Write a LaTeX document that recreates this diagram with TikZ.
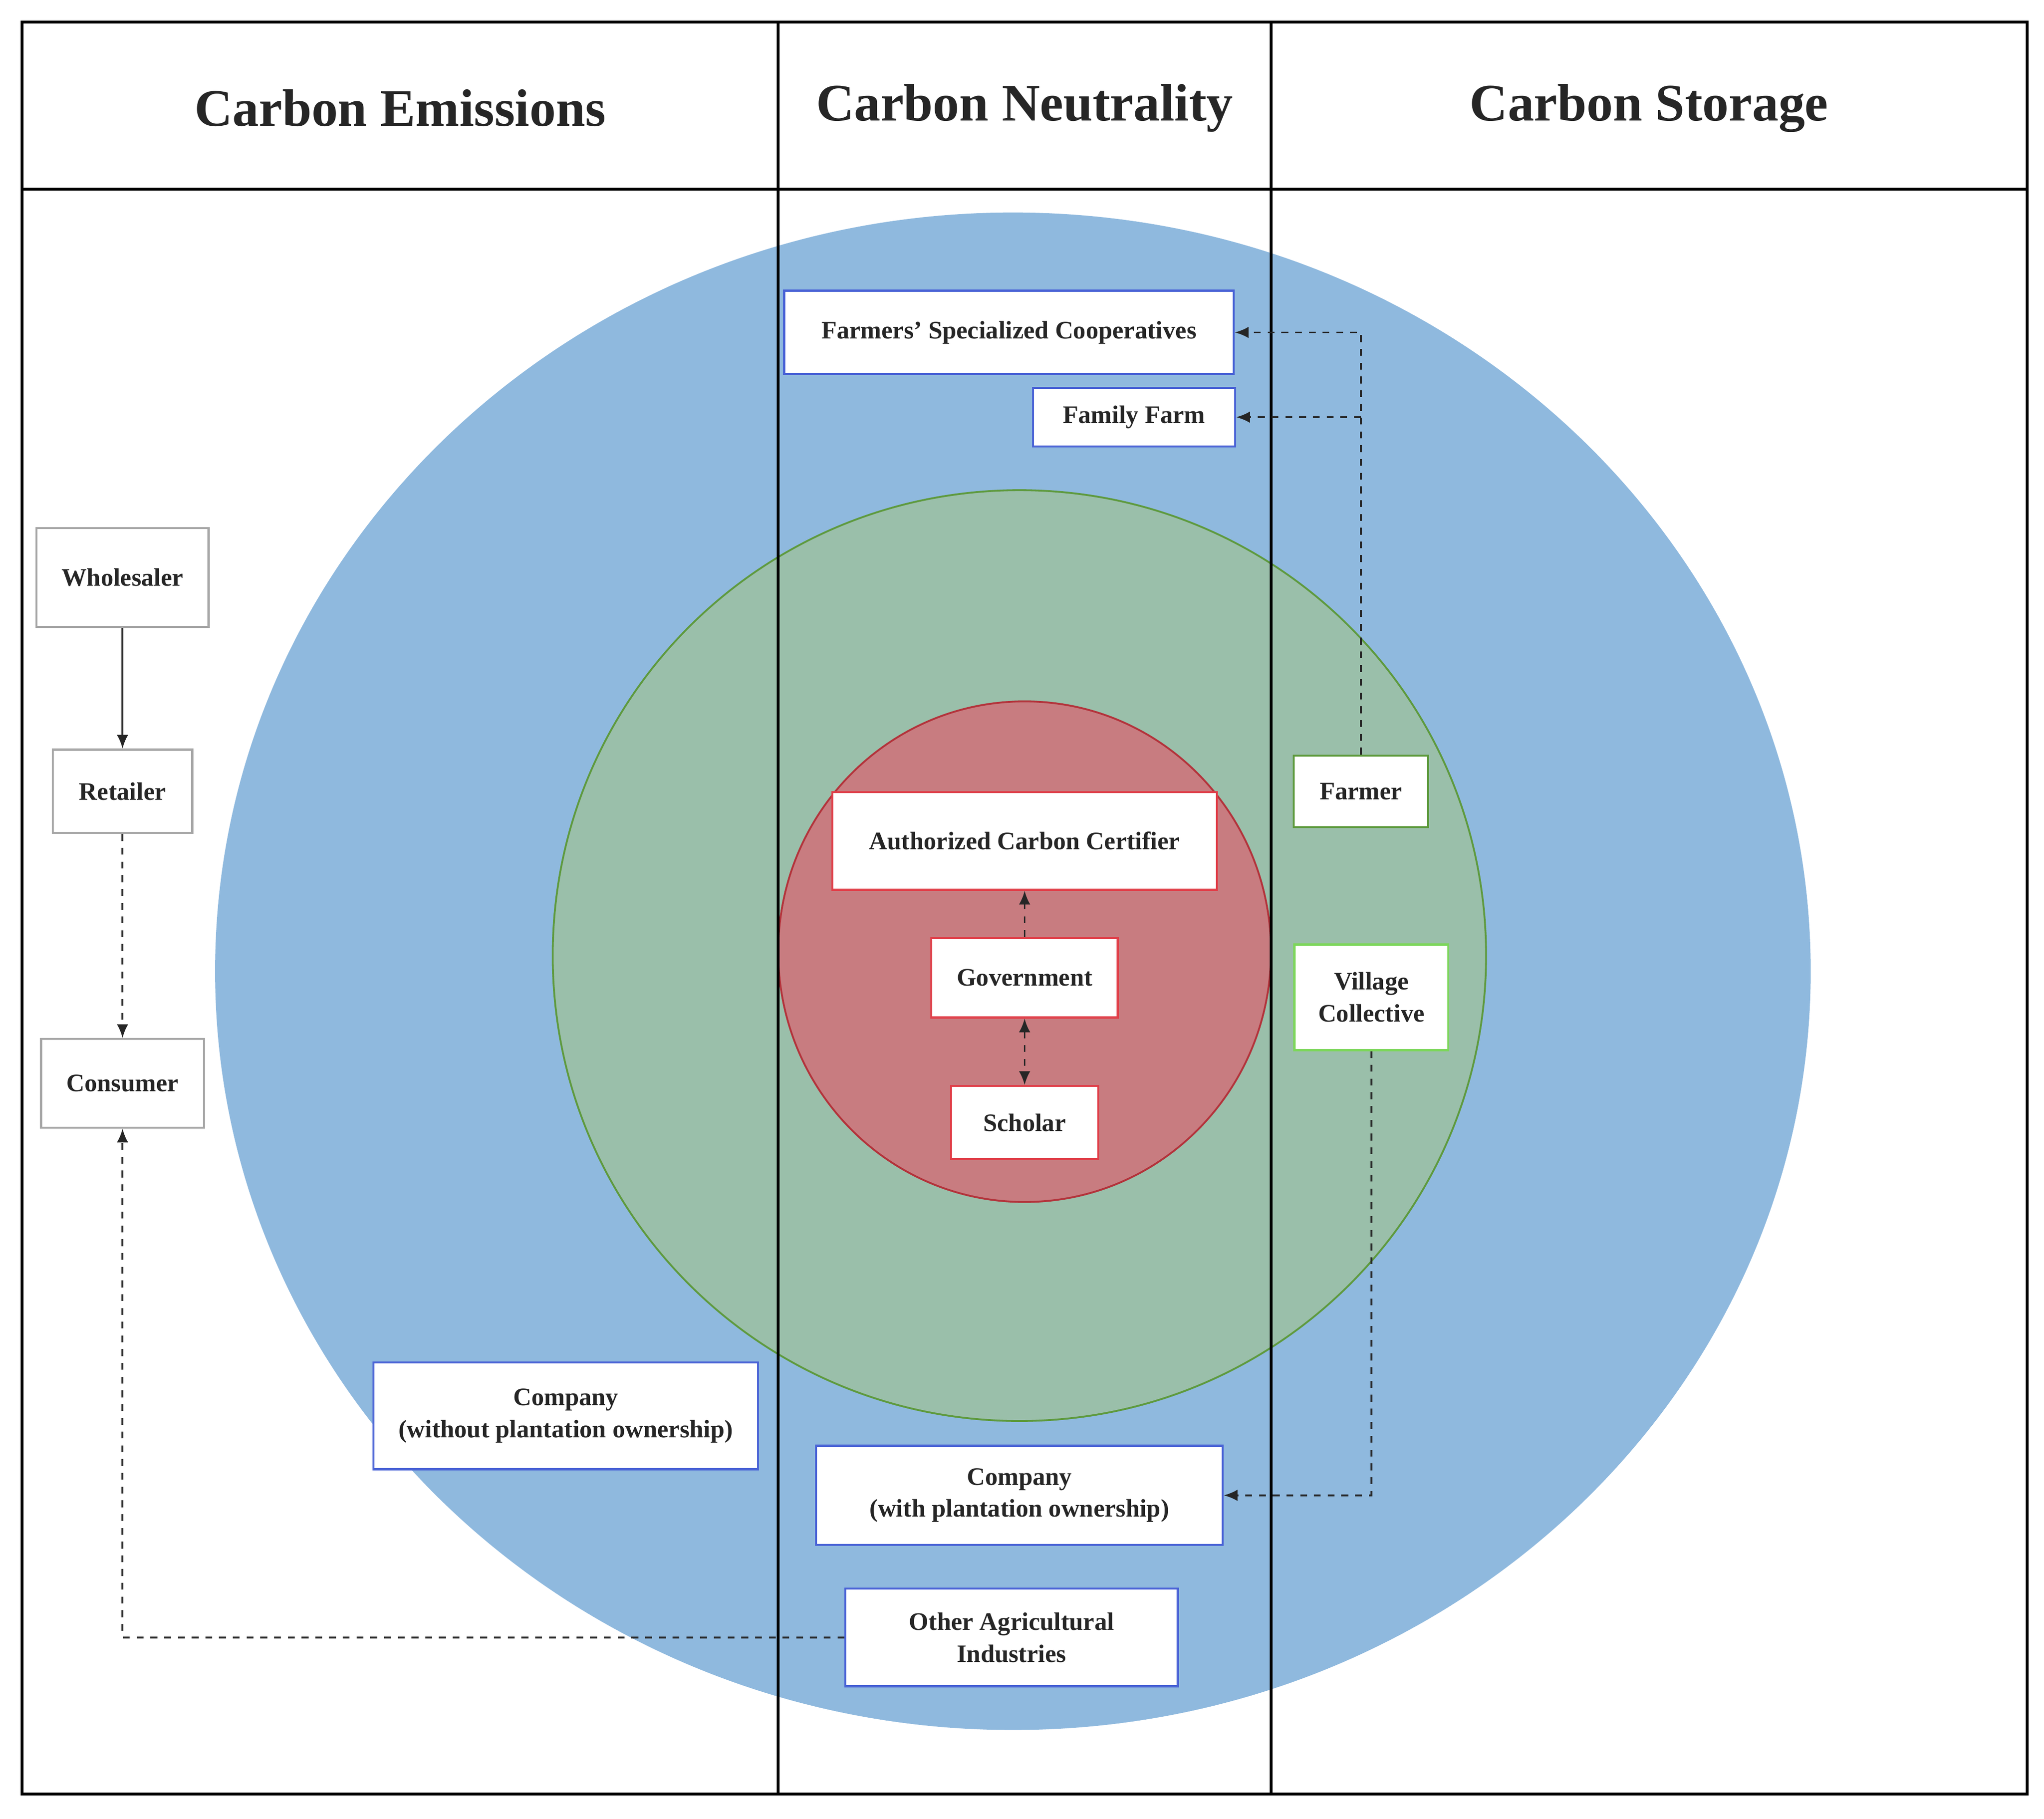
\documentclass[tikz,border=0pt]{standalone}
\usepackage{fontspec}
\setmainfont{Liberation Serif}
\usetikzlibrary{arrows.meta,positioning}
\definecolor{outerblue}{HTML}{8FB9DE}
\definecolor{midgreen}{HTML}{9ABFAA}
\definecolor{innerred}{HTML}{C87C80}
\definecolor{bborder}{HTML}{4A63D6}
\definecolor{rborder}{HTML}{E0404A}
\definecolor{gborder}{HTML}{5E9A3E}
\definecolor{lgborder}{HTML}{7CD65A}
\begin{document}
\begin{tikzpicture}[x=0.02cm,y=-0.02cm,
  actor/.style={draw, rectangle, fill=white, line width=0.9pt, align=center,
    font=\fontsize{11}{14}\selectfont\bfseries, text=black!85},
  blueact/.style={actor, draw=bborder},
  redact/.style={actor, draw=rborder},
  grayact/.style={actor, draw=black!35},
  link/.style={-{Latex[length=6pt,width=5pt]}, line width=0.8pt, black!85},
  dlink/.style={link, dashed},
  head/.style={font=\fontsize{23}{26}\selectfont\bfseries, text=black!85}]
\useasboundingbox (0,0) rectangle (1568,1395);
% rings
\fill[outerblue] (777,745) ellipse [x radius=612, y radius=582];
\draw[fill=midgreen, draw=gborder, line width=0.8pt] (782,733) ellipse [x radius=358, y radius=357];
\draw[fill=innerred, draw=rborder!80!black, line width=0.8pt] (786,730) ellipse [x radius=189, y radius=192];
% frame
\draw[line width=1.2pt] (17,17) rectangle (1555,1376);
\draw[line width=1.2pt] (17,145) -- (1555,145);
\draw[line width=1.2pt] (597,17) -- (597,1376);
\draw[line width=1.2pt] (975,17) -- (975,1376);
\node[head] (hEm) at (307,83) {Carbon Emissions};
\node[head] (hNe) at (786,83) {Carbon Neutrality};
\node[head] (hSt) at (1265,83) {Carbon Storage};
% actors
\node[blueact, minimum width=6.9cm, minimum height=1.28cm] (coop) at (774,255) {Farmers' Specialized Cooperatives};
\node[blueact, minimum width=3.1cm, minimum height=0.9cm] (ffarm) at (870,320) {Family Farm};
\node[grayact, minimum width=2.64cm, minimum height=1.52cm] (whole) at (94,443) {Wholesaler};
\node[grayact, minimum width=2.14cm, minimum height=1.28cm] (retail) at (94,607) {Retailer};
\node[grayact, minimum width=2.5cm, minimum height=1.36cm] (consum) at (94,831) {Consumer};
\node[redact, minimum width=5.9cm, minimum height=1.5cm] (certif) at (786,645) {Authorized Carbon Certifier};
\node[redact, minimum width=2.86cm, minimum height=1.22cm] (gov) at (786,750) {Government};
\node[redact, minimum width=2.26cm, minimum height=1.12cm] (scholar) at (786,861) {Scholar};
\node[actor, draw=gborder, minimum width=2.06cm, minimum height=1.1cm] (farmer) at (1044,607) {Farmer};
\node[actor, draw=lgborder, minimum width=2.36cm, minimum height=1.62cm] (village) at (1052,765) {Village\\Collective};
\node[blueact, minimum width=5.9cm, minimum height=1.64cm] (compNo) at (434,1086) {Company\\(without plantation ownership)};
\node[blueact, minimum width=6.24cm, minimum height=1.52cm] (compYes) at (782,1147) {Company\\(with plantation ownership)};
\node[blueact, minimum width=5.1cm, minimum height=1.5cm] (other) at (776,1256) {Other Agricultural\\Industries};
% connectors
\draw[link] (whole) -- (retail);
\draw[dlink] (retail) -- (consum);
\draw[dlink] (gov) -- (certif);
\draw[dlink, {Latex[length=6pt,width=5pt]}-{Latex[length=6pt,width=5pt]}] (gov) -- (scholar);
\coordinate (fbend) at (1044,320);
\draw[dlink] (farmer.north) |- (coop.east);
\draw[dlink] (fbend) -- (ffarm.east);
\draw[dlink] (village.south) |- (compYes.east);
\draw[dlink] (other.west) -| (consum.south);
\end{tikzpicture}
\end{document}
